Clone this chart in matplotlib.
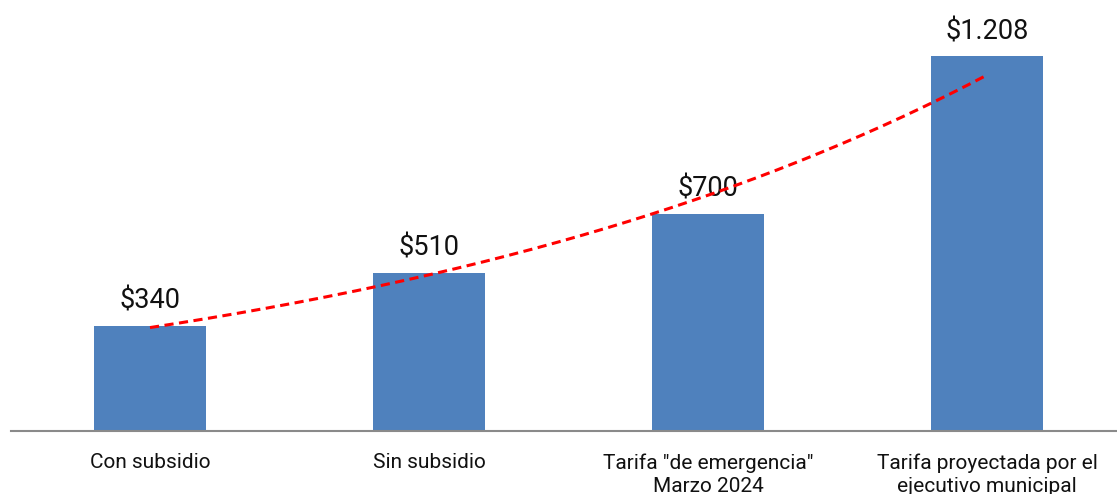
import numpy as np
import matplotlib.pyplot as plt

plt.rcParams['font.family'] = ['Roboto', 'DejaVu Sans']

categories = ['Con subsidio', 'Sin subsidio', 'Tarifa "de emergencia"\nMarzo 2024',
              'Tarifa proyectada por el\nejecutivo municipal']
tarifas = [340, 510, 700, 1208]
etiquetas = ['$340', '$510', '$700', '$1.208']

fig = plt.figure(figsize=(11.17, 4.94), dpi=100)
ax = fig.add_axes([10.5 / 1117, 63 / 494, 1116 / 1117, 431 / 494])

x = np.arange(len(categories))
bars = ax.bar(x, tarifas, width=0.40, color='#4F81BD', zorder=2)

for xi, val, lab in zip(x, tarifas, etiquetas):
    ax.annotate(lab, (xi, val), xytext=(0, 8), textcoords='offset points',
                ha='center', va='bottom', fontsize=19.5, color='#111111')

# exponential trendline fitted to the tariffs
b, a = np.polyfit(x, np.log(tarifas), 1)
xs = np.linspace(0, len(categories) - 1, 200)
ax.plot(xs, np.exp(a + b * xs), color='#FF0000', lw=2.2, ls=(0, (3, 1.8)), zorder=3)

ax.set_xlim(-0.5, len(categories) - 0.5)
ax.set_ylim(0, 1390)
ax.set_xticks(x)
ax.set_xticklabels(categories, fontsize=15, color='#111111', linespacing=1.3)
ax.tick_params(axis='x', length=0, pad=16)
ax.set_yticks([])
for s in ['top', 'right', 'left']:
    ax.spines[s].set_visible(False)
ax.spines['bottom'].set_color('#8A8A8A')
ax.spines['bottom'].set_linewidth(1.5)

fig.savefig('out.png', dpi=100)
